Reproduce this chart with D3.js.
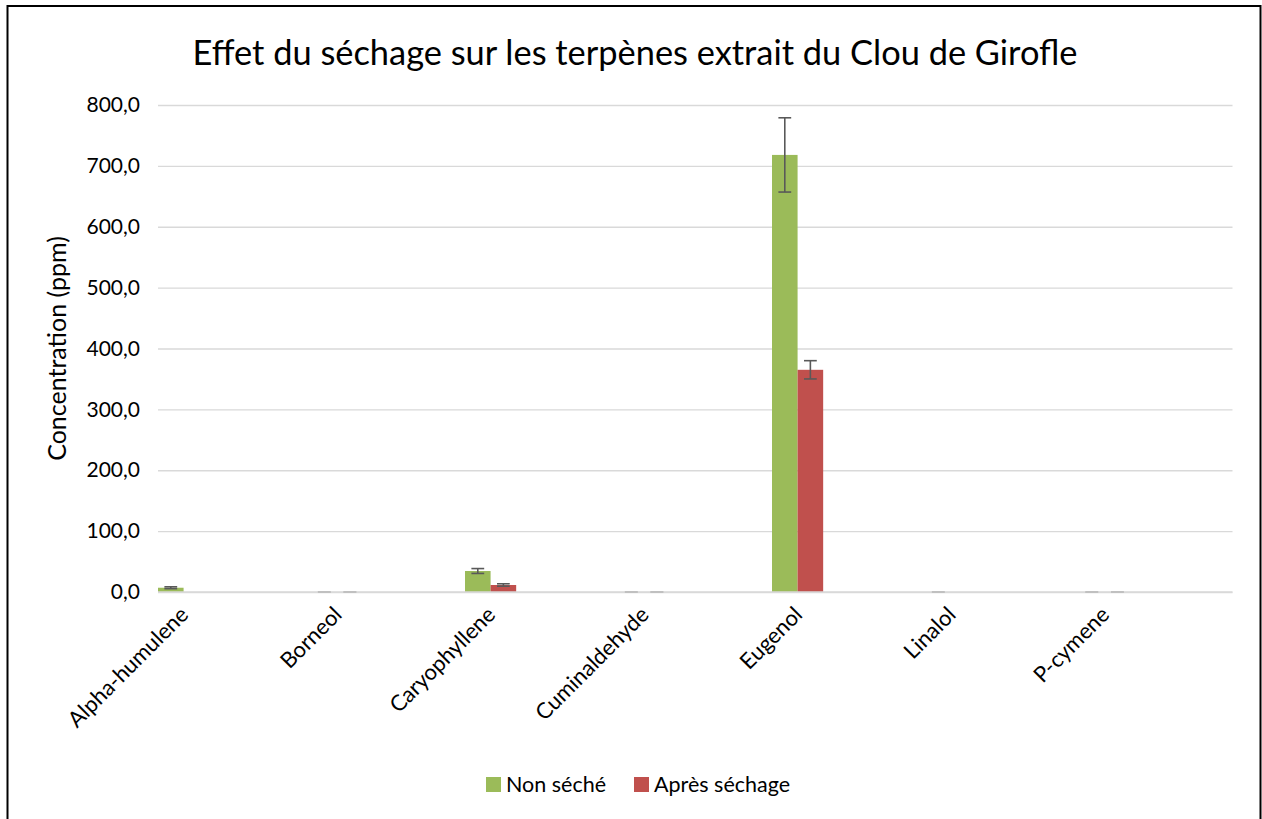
<!DOCTYPE html>
<html>
<head>
<meta charset="utf-8">
<script src="https://cdn.jsdelivr.net/npm/d3@7"></script>
<style>
  body { margin: 0; background: #fff; }
  text { font-family: Lato, "Open Sans", sans-serif; fill: #000; }
</style>
</head>
<body>
<div id="wrapper"></div>
<script>
// Data
const categories = ["Alpha-humulene", "Borneol", "Caryophyllene", "Cuminaldehyde", "Eugenol", "Linalol", "P-cymene"]
const seriesNames = ["Non séché", "Après séchage"]
const seriesColors = ["#9bbb59", "#c0504d"]
const nonSeche = [7, 0, 34.5, 0, 718, 0, 0]
const nonSecheErr = [1.5, 0, 4, 0, 61, 0, 0]
const apresSechage = [null, 0, 11.5, 0, 365, null, 0]
const apresSechageErr = [null, 0, 2, 0, 15, null, 0]
const yTicks = [0, 100, 200, 300, 400, 500, 600, 700, 800]

function drawChart() {
  let dimensions = {
    width: 1262,
    height: 819,
    margin: { top: 105, right: 29.5, bottom: 227, left: 158 }
  }
  dimensions.boundedWidth = dimensions.width - dimensions.margin.left - dimensions.margin.right
  dimensions.boundedHeight = dimensions.height - dimensions.margin.top - dimensions.margin.bottom

  const values = [nonSeche, apresSechage]
  const errors = [nonSecheErr, apresSechageErr]
  const dataset = []
  categories.forEach((c, i) => {
    seriesNames.forEach((s, j) => {
      if (values[j][i] != null) dataset.push({ cat: c, series: s, value: values[j][i], err: errors[j][i], color: seriesColors[j] })
    })
  })

  const xScale = d3.scaleBand()
    .domain(categories)
    .range([0, dimensions.boundedWidth])
    .padding(0)

  // the workbook's clustered bars leave room for 6 slots per category, only 2 are filled
  const xSub = d3.scaleBand()
    .domain(seriesNames)
    .range([0, xScale.bandwidth() / 3])

  const yScale = d3.scaleLinear()
    .domain([0, 800])
    .range([dimensions.boundedHeight, 0])

  const svg = d3.select("#wrapper").append("svg")
    .attr("width", dimensions.width)
    .attr("height", dimensions.height)

  // outer frame
  svg.append("rect")
    .attr("x", 7.5).attr("y", 6)
    .attr("width", 1253).attr("height", 830)
    .attr("fill", "none")
    .attr("stroke", "#000")
    .attr("stroke-width", 2)

  svg.append("text")
    .attr("x", 635)
    .attr("y", 65)
    .attr("text-anchor", "middle")
    .style("font-size", "34.4px")
    .text("Effet du séchage sur les terpènes extrait du Clou de Girofle")

  const bounds = svg.append("g")
    .attr("transform", `translate(${dimensions.margin.left}, ${dimensions.margin.top})`)

  // y axis: gridlines + labels, no domain line
  const yAxis = d3.axisLeft(yScale)
    .tickValues(yTicks)
    .tickSize(-dimensions.boundedWidth)
    .tickPadding(18)
    .tickFormat(d => d3.format(".1f")(d).replace(".", ","))

  bounds.append("g")
    .call(yAxis)
    .call(g => g.select(".domain").remove())
    .call(g => g.selectAll("line").attr("stroke", "#d9d9d9").attr("stroke-width", 1.3))
    .call(g => g.selectAll("text").style("font-size", "21px").attr("font-family", null))

  bounds.append("text")
    .attr("transform", `translate(${-92}, ${dimensions.boundedHeight / 2}) rotate(-90)`)
    .attr("text-anchor", "middle")
    .style("font-size", "25px")
    .text("Concentration (ppm)")

  // bars
  bounds.selectAll(".bar")
    .data(dataset)
    .join("rect")
    .attr("class", "bar")
    .attr("x", d => xScale(d.cat) + xSub(d.series))
    .attr("y", d => yScale(d.value))
    .attr("width", xSub.bandwidth())
    .attr("height", d => yScale(0) - yScale(d.value))
    .attr("fill", d => d.color)

  // x axis line
  bounds.append("line")
    .attr("x1", 0).attr("x2", dimensions.boundedWidth)
    .attr("y1", yScale(0)).attr("y2", yScale(0))
    .attr("stroke", "#d9d9d9")
    .attr("stroke-width", 1.3)

  // error bars
  const capW = xSub.bandwidth() / 2
  const errG = bounds.selectAll(".err")
    .data(dataset)
    .join("g")
    .attr("class", "err")
    .attr("transform", d => `translate(${xScale(d.cat) + xSub(d.series) + xSub.bandwidth() / 2}, 0)`)
    .attr("stroke", d => d.err > 0 ? "#595959" : "#bfbfbf")
    .attr("stroke-width", 1.6)

  errG.append("line")
    .attr("y1", d => yScale(d.value + d.err))
    .attr("y2", d => yScale(Math.max(0, d.value - d.err)))
  errG.append("line")
    .attr("x1", -capW / 2).attr("x2", capW / 2)
    .attr("y1", d => yScale(d.value + d.err)).attr("y2", d => yScale(d.value + d.err))
  errG.append("line")
    .attr("x1", -capW / 2).attr("x2", capW / 2)
    .attr("y1", d => yScale(Math.max(0, d.value - d.err))).attr("y2", d => yScale(Math.max(0, d.value - d.err)))

  // rotated category labels
  bounds.selectAll(".cat-label")
    .data(categories)
    .join("text")
    .attr("class", "cat-label")
    .attr("text-anchor", "end")
    .attr("transform", d => `translate(${xScale(d) + xScale.bandwidth() / 2 - 45}, ${dimensions.boundedHeight + 24}) rotate(-45)`)
    .style("font-size", "22px")
    .text(d => d)

  // legend
  const legend = svg.append("g")
    .attr("transform", "translate(486, 777)")
  const legendX = [0, 148]
  const items = legend.selectAll("g")
    .data(seriesNames)
    .join("g")
    .attr("transform", (d, i) => `translate(${legendX[i]}, 0)`)
  items.append("rect")
    .attr("width", 15).attr("height", 15)
    .attr("fill", (d, i) => seriesColors[i])
  items.append("text")
    .attr("x", 20)
    .attr("y", 15)
    .style("font-size", "21.5px")
    .text(d => d)
}
drawChart()
</script>
</body>
</html>
